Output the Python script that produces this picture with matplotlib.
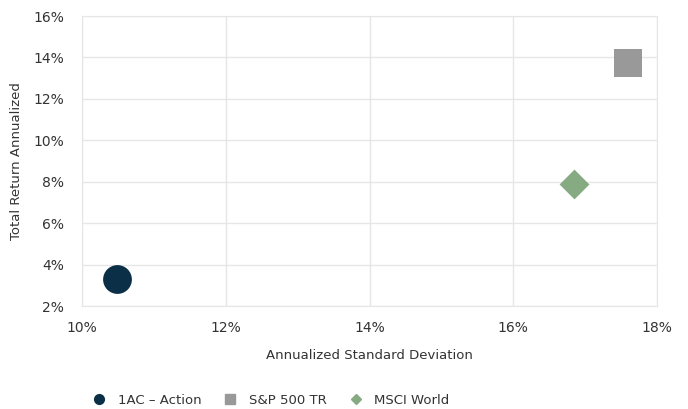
import matplotlib.pyplot as plt
from matplotlib.ticker import PercentFormatter

plt.rcParams['font.family'] = ['DejaVu Sans']
plt.rcParams['font.size'] = 9.5

names = ["1AC – Action", "S&P 500 TR", "MSCI World"]
std_dev = [10.49, 17.60, 16.84]
ret = [3.30, 13.73, 7.88]
markers = ["o", "s", "D"]
colors = ["#0b2f46", "#999999", "#86ab82"]
sizes = [430, 430, 230]

fig = plt.figure(figsize=(6.88, 4.09), dpi=100)
ax = fig.add_axes([82 / 688, 1 - 306 / 409, 575 / 688, 290 / 409])

for n, x, y, m, c, s in zip(names, std_dev, ret, markers, colors, sizes):
    ax.scatter(x, y, marker=m, s=s, color=c, label=n, zorder=3, linewidths=0)

ax.set_xlim(10, 18)
ax.set_ylim(2, 16)
ax.set_xticks(range(10, 19, 2))
ax.set_yticks(range(2, 17, 2))
ax.xaxis.set_major_formatter(PercentFormatter(decimals=0))
ax.yaxis.set_major_formatter(PercentFormatter(decimals=0))
ax.grid(color='#e6e6e6', linewidth=1)
ax.set_axisbelow(True)
for sp in ax.spines.values():
    sp.set_color('#e6e6e6')
ax.tick_params(axis='x', length=0, pad=11, colors='#333333', labelsize=10)
ax.tick_params(axis='y', length=0, pad=13, colors='#333333', labelsize=10)

ax.set_xlabel("Annualized Standard Deviation", color='#333333', labelpad=10)
ax.set_ylabel("Total Return Annualized", color='#333333', labelpad=7)

handles = [plt.Line2D([], [], marker=m, color=c, ls='none', markersize=ms)
           for m, c, ms in zip(markers, colors, [7, 7, 5.5])]
fig.legend(handles, names, loc='center left', bbox_to_anchor=(86 / 688, 1 - 400 / 409),
           ncol=3, frameon=False, handlelength=1.2, handletextpad=0.8,
           columnspacing=1.6, borderaxespad=0, labelcolor='#333333')

fig.savefig("out.png")
